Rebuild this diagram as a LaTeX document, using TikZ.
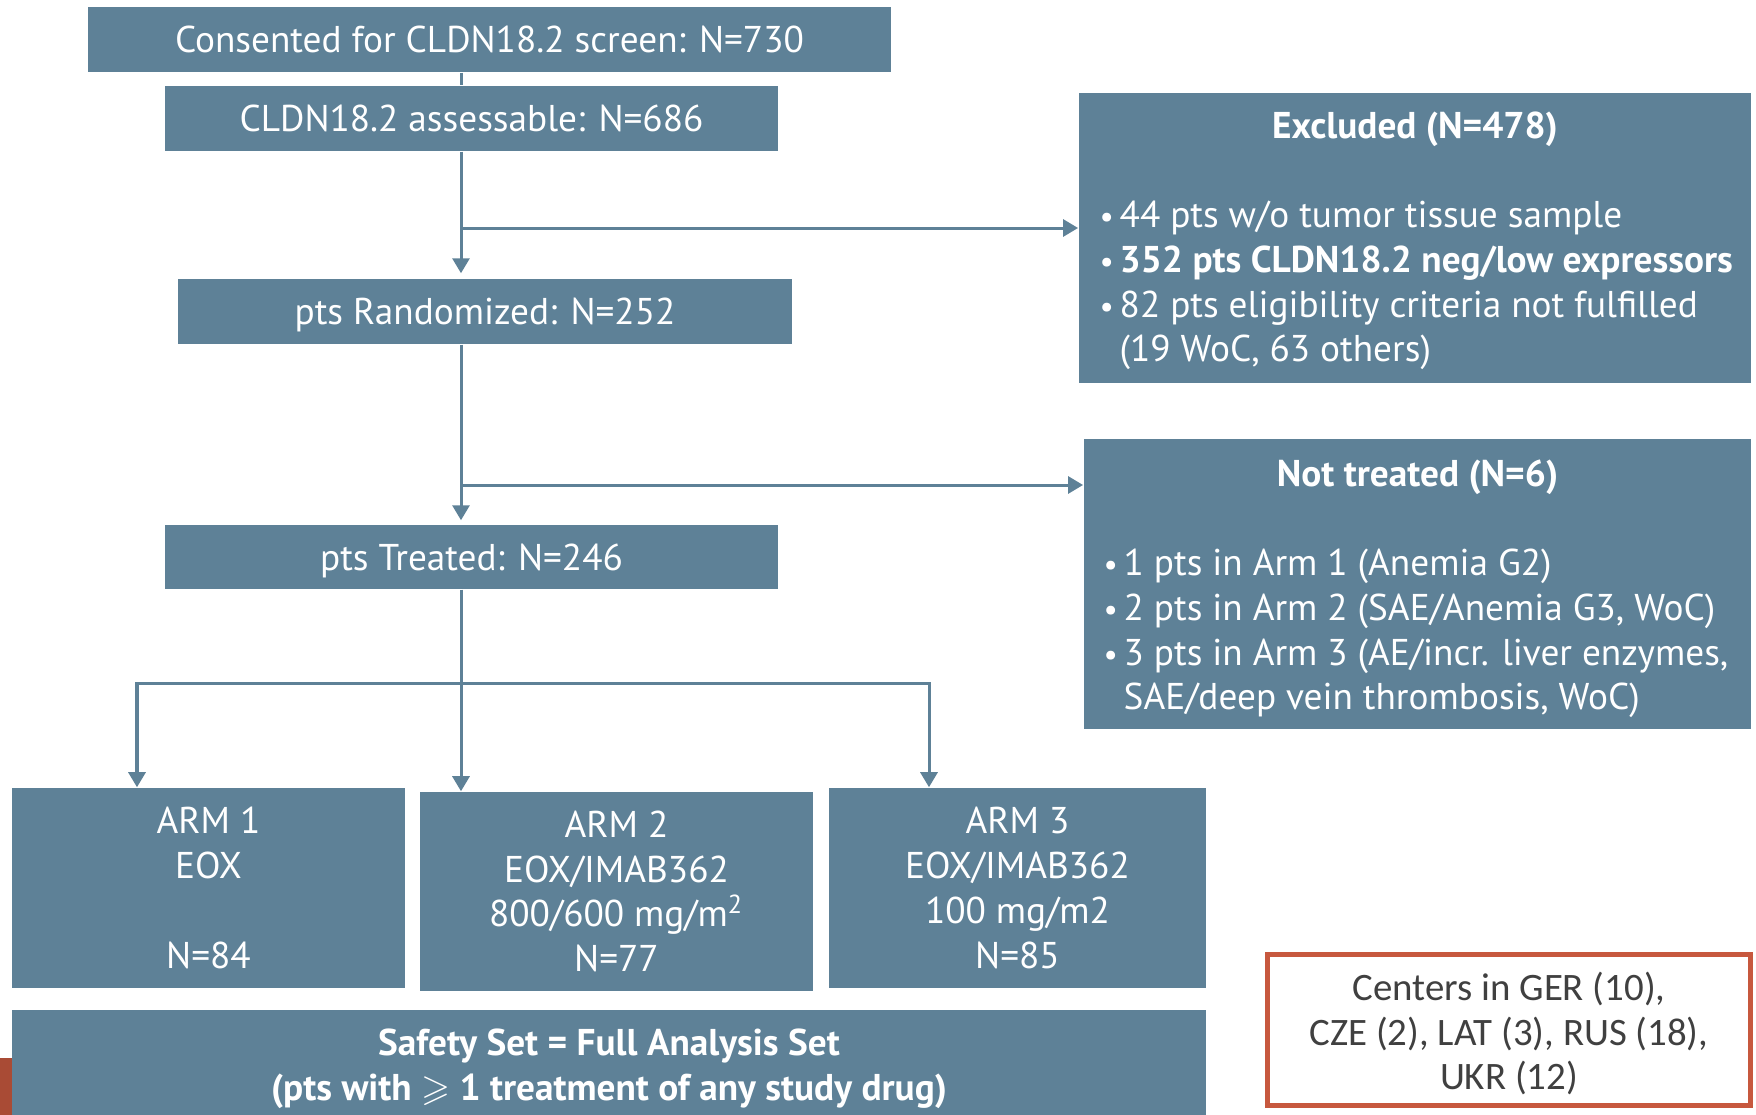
\documentclass[tikz,border=0pt]{standalone}
\usepackage{fontspec}
\usepackage{amssymb}
\setmainfont{PT Sans}
\newfontfamily\calib{Carlito}
\usetikzlibrary{arrows.meta}

\definecolor{slate}{RGB}{94,129,151}
\definecolor{brick}{RGB}{199,88,62}
\definecolor{ink}{RGB}{64,64,64}
\newcommand{\itm}{\makebox[0.20cm][l]{\scalebox{0.85}{\textbullet}}}
\newcommand{\ind}{\hspace*{0.20cm}}

\tikzset{
  box/.style={fill=slate, text=white, inner sep=0pt, align=center,
    font=\fontsize{10.6}{12.75}\selectfont},
  onebox/.style={box, text depth=0pt},
  txt/.style={text=white, inner sep=0pt, font=\fontsize{10.6}{12.75}\selectfont},
  link/.style={draw=slate, line width=0.03cm},
  arr/.style={-{Triangle[width=0.17cm,length=0.15cm]}},
}

\begin{document}
\begin{tikzpicture}[x=0.01cm,y=-0.01cm]
			\useasboundingbox (0,0) rectangle (1756,1115);
			\fill[brick!85!black] (0,1058) rectangle (12,1115);

			\node[onebox, minimum width=8.03cm, minimum height=0.65cm] (consent) at (489.5,39.5) {Consented for CLDN18.2 screen: N=730};
			\node[onebox, minimum width=6.13cm, minimum height=0.65cm] (assess) at (471.5,118.5) {CLDN18.2 assessable: N=686};
			\node[onebox, minimum width=6.14cm, minimum height=0.65cm] (random) at (485,311.5) {pts Randomized: N=252};
			\node[onebox, minimum width=6.13cm, minimum height=0.64cm] (treated) at (471.5,557) {pts Treated: N=246};

			\node[box, minimum width=6.72cm, minimum height=2.90cm] (excluded) at (1415,238) {};
			\node[txt, font=\fontsize{10.6}{12.75}\bfseries] (exctitle) at (1415,129.5) {Excluded (N=478)};
			\node[txt, align=left, anchor=west] (exclist) at (1099,285.5) {\itm 44 pts w/o tumor tissue sample\\
				\itm\textbf{352 pts CLDN18.2 neg/low expressors}\\
				\itm 82 pts eligibility criteria not fulfilled\\
				\ind(19 WoC, 63 others)};

			\node[box, minimum width=6.67cm, minimum height=2.90cm] (nottreated) at (1417.5,584) {};
			\node[txt, font=\fontsize{10.6}{12.75}\bfseries] (nttitle) at (1417.5,477.5) {Not treated (N=6)};
			\node[txt, align=left, anchor=west] (ntlist) at (1103,633.5) {\itm 1 pts in Arm 1 (Anemia G2)\\
				\itm 2 pts in Arm 2 (SAE/Anemia G3, WoC)\\
				\itm 3 pts in Arm 3 (AE/incr. liver enzymes,\\
				\ind SAE/deep vein thrombosis, WoC)};

			\node[box, minimum width=3.93cm, minimum height=2.00cm] (arm1) at (208.5,888) {ARM 1\\EOX\\ \mbox{}\\N=84};
			\node[box, minimum width=3.93cm, minimum height=1.99cm] (arm2) at (616.5,891.5) {ARM 2\\EOX/IMAB362\\800/600 mg/m\textsuperscript{2}\\N=77};
			\node[box, minimum width=3.77cm, minimum height=2.00cm] (arm3) at (1017.5,888) {ARM 3\\EOX/IMAB362\\100 mg/m2\\N=85};

			\node[box, minimum width=11.94cm, minimum height=1.05cm] (safety) at (609,1062.5) {};
			\node[txt, align=center, font=\fontsize{10.6}{12.75}\bfseries] (safetytext) at (609,1069) {Safety Set = Full Analysis Set\\(pts with {\boldmath$\geqslant$} 1 treatment of any study drug)};

			\node[draw=brick, line width=0.05cm, text=ink, inner sep=0pt, align=center, minimum width=4.83cm, minimum height=1.51cm,
				font=\calib\fontsize{11.05}{12.75}\selectfont] (centers) at (1509,1030) {};
			\node[text=ink, inner sep=0pt, align=center, font=\calib\fontsize{11.05}{12.75}\selectfont] (centerstext) at (1509,1033.5) {Centers in GER (10),\\CZE (2), LAT (3), RUS (18),\\UKR (12)};

			\coordinate (trunk) at (461,0);
			\coordinate (split1) at (0,228);
			\coordinate (split2) at (0,485);
			\coordinate (fork) at (0,683);
			\coordinate (leftdrop) at (137,0);
			\coordinate (rightdrop) at (929,0);

			\draw[link] (consent.south -| trunk) -- (assess.north -| trunk);
			\draw[link, arr, shorten >=0.05cm] (assess.south -| trunk) -- (random.north -| trunk);
			\draw[link, arr] (trunk |- split1) -- (excluded.west |- split1);
			\draw[link, arr, shorten >=0.04cm] (random.south -| trunk) -- (treated.north -| trunk);
			\draw[link, arr] (trunk |- split2) -- (nottreated.west |- split2);
			\draw[link, arr] (treated.south -| trunk) -- (arm2.north -| trunk);
			\draw[link, arr] (rightdrop |- fork) -| (arm1.north -| leftdrop);
			\draw[link, arr] (leftdrop |- fork) -| (arm3.north -| rightdrop);
		\end{tikzpicture}
\end{document}
